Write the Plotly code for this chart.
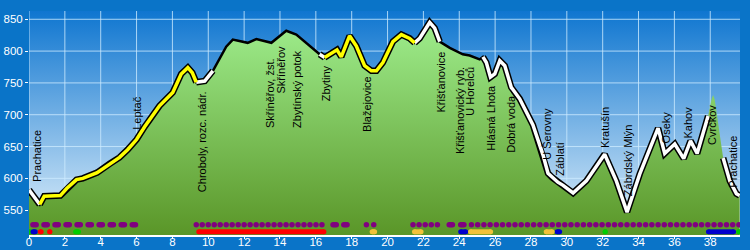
import numpy as np
import plotly.graph_objects as go

# ---------------- data ----------------
km = [0.0, 0.6, 0.85, 1.75, 2.1, 2.65, 3.0, 3.8, 4.5, 5.05, 5.5, 6.0, 6.45, 7.28, 8.02, 8.49,
      8.86, 9.11, 9.33, 9.8, 10.26, 11.0, 11.37, 12.2, 12.68, 13.52, 14.35, 14.91, 16.21, 16.49,
      17.18, 17.42, 17.88, 18.26, 18.72, 19.1, 19.38, 19.74, 20.3, 20.77, 21.23, 21.51, 21.79,
      22.35, 22.63, 22.91, 23.47, 24.2, 24.58, 25.14, 25.32, 25.51, 25.74, 25.98, 26.26, 26.54,
      26.9, 27.37, 28.11, 28.67, 28.95, 29.2, 29.5, 29.79, 30.35, 31.09, 32.11, 32.76, 33.36,
      34.07, 35.09, 35.46, 36.02, 36.52, 36.9, 37.27, 37.88, 38.07, 38.16, 38.25, 38.72, 39.09,
      39.46, 39.64]
elev = [582, 559, 572, 573, 584, 598, 600, 609, 623, 633, 645, 661, 681, 714, 735, 764,
        774, 766, 751, 753, 769, 807, 818, 813, 819, 813, 832, 826, 795, 790,
        802, 791, 824, 808, 777, 769, 769, 782, 815, 826, 820, 813, 820,
        845, 836, 815, 805, 795, 793, 787, 791, 782, 759, 764, 785, 777,
        743, 725, 684, 637, 608, 601, 594, 589, 577, 596, 638, 596, 547,
        607, 679, 639, 654, 631, 659, 639, 698, 724, 731, 724, 632, 596,
        576, 573]

# route pieces that have a line drawn (the spike near 38 km has only fill)
line_pieces = [(0.0, 37.88), (38.72, 39.64)]
# highlighted pieces: (from km, to km, colour)
highlight = [(0.0, 0.6, "#ffffff"), (0.6, 9.33, "#ffff00"), (9.33, 10.26, "#ffffff"),
             (16.21, 16.49, "#ffffff"), (16.49, 21.51, "#ffff00"), (21.51, 22.91, "#ffffff"),
             (25.32, 37.88, "#ffffff"), (38.72, 39.64, "#ffffff")]

labels = ["Prachatice", "Leptač", "Chroboly, rozc. nádr.", "Skříněřov, žst.", "Skříněřov",
          "Zbytínský potok", "Zbytiny", "Blažejovice", "Křišťanovice", "Křišťanovický ryb.",
          "U Horelců", "Hlásná Lhota", "Dobrá voda", "U Šerovny", "Záblatí", "Kratušín",
          "Zábrdský Mlýn", "Oseky", "Kahov", "Cvrčkov", "Prachatice"]
label_km = [0.45, 5.98, 9.65, 13.45, 14.03, 14.96, 16.55, 18.84, 22.96, 24.05,
            24.58, 25.77, 26.84, 28.93, 29.6, 32.09, 33.43, 35.52, 36.76, 38.1, 39.22]
label_base = [593, 675, 576, 677, 731, 678, 719, 671, 702, 636,
              697, 642, 639, 627, 602, 646, 571, 653, 661, 651, 584]

x_ticks = list(range(0, 40, 2))
y_ticks = [550, 600, 650, 700, 750, 800, 850]

# purple markings: single-dot runs (first, last, count), double-dot "pills"
purple_runs = [(9.33, 16.34, 22), (18.82, 19.23, 2), (21.42, 22.78, 5), (24.68, 39.6, 44)]
purple_pill_runs = [(0.31, 5.85, 10), (17.05, 17.05, 1), (17.65, 17.65, 1),
                    (23.53, 23.53, 1), (24.17, 24.17, 1)]
# coloured bars (from km, to km)
bars_green = [(0.05, 0.05), (2.6, 2.76), (32.14, 32.14), (39.6, 39.6)]
bars_blue = [(0.22, 0.35), (24.08, 24.36), (29.46, 29.6), (37.9, 39.3)]
bars_red = [(0.63, 0.68), (1.16, 1.16), (9.47, 16.45)]
bars_yellow = [(19.14, 19.28), (21.5, 21.87), (24.63, 25.75), (28.85, 29.18)]

# ---------------- figure ----------------
X0, X1 = 0.0, 39.66
Y0, Y1 = 511, 863
PURPLE_ROW = 527
BAR_ROW = 516

fig = go.Figure()

# plot background gradient
fig.add_trace(go.Scatter(
    x=[X0, X1, X1, X0, X0], y=[Y0, Y0, Y1, Y1, Y0], mode="lines", fill="toself",
    line=dict(width=0), hoverinfo="skip",
    fillgradient=dict(type="vertical", start=Y0, stop=Y1,
                      colorscale=[[0, "#e2f1fb"], [1, "#0f76d0"]])))

# grid
gx, gy = [], []
for t in x_ticks:
    gx += [t, t, None]
    gy += [Y0, Y1, None]
for t in y_ticks:
    gx += [X0, X1, None]
    gy += [t, t, None]
fig.add_trace(go.Scatter(x=gx, y=gy, mode="lines", hoverinfo="skip",
                         line=dict(color="rgba(205,235,255,0.8)", width=1)))

# terrain fill
fig.add_trace(go.Scatter(
    x=km, y=elev, mode="lines", fill="tozeroy", line=dict(width=0), hoverinfo="skip",
    fillgradient=dict(type="vertical", start=Y0, stop=Y1,
                      colorscale=[[0, "#5a9628"], [1, "#a2f292"]])))


def pieces(ranges):
    xs, ys = [], []
    for a, b in ranges:
        for k, e in zip(km, elev):
            if a <= k <= b:
                xs.append(k)
                ys.append(e)
        xs.append(None)
        ys.append(None)
    return xs, ys


bx, by = pieces(line_pieces)
fig.add_trace(go.Scatter(x=bx, y=by, mode="lines", hoverinfo="skip",
                         line=dict(color="black", width=2.5)))
hx, hy = pieces([(a, b) for a, b, c in highlight])
fig.add_trace(go.Scatter(x=hx, y=hy, mode="lines", hoverinfo="skip",
                         line=dict(color="black", width=6.5)))
for col in ["#ffffff", "#ffff00"]:
    sx, sy = pieces([(a, b) for a, b, c in highlight if c == col])
    fig.add_trace(go.Scatter(x=sx, y=sy, mode="lines", hoverinfo="skip",
                             line=dict(color=col, width=3.5)))

# purple markings
px = []
for a, b, n in purple_runs:
    px += list(np.linspace(a, b, n))
for a, b, n in purple_pill_runs:
    for c in np.linspace(a, b, n):
        px += [c - 0.09, c, c + 0.09]
fig.add_trace(go.Scatter(x=px, y=[PURPLE_ROW] * len(px), mode="markers", hoverinfo="skip",
                         marker=dict(color="#800080", size=5.5, line=dict(width=0))))

# coloured bars
for bars, col in [(bars_green, "#00cc00"), (bars_blue, "#0000cc"),
                  (bars_red, "#ff0000"), (bars_yellow, "#f2c23a")]:
    xs, ys = [], []
    for a, b in bars:
        xs += [a, b, None]
        ys += [BAR_ROW, BAR_ROW, None]
    fig.add_trace(go.Scatter(x=xs, y=ys, mode="lines+markers", hoverinfo="skip",
                             line=dict(color=col, width=5),
                             marker=dict(color=col, size=5, line=dict(width=0))))

# place labels
for t, k, b in zip(labels, label_km, label_base):
    fig.add_annotation(x=k, y=b, text=t, textangle=-90, showarrow=False,
                       xanchor="center", yanchor="bottom", borderpad=0,
                       font=dict(family="Liberation Sans, Arial", size=11, color="black"))

tick_font = dict(family="Liberation Sans, Arial", size=11.5, color="white")
fig.update_layout(
    width=750, height=250, margin=dict(l=29, r=10, t=11, b=15),
    paper_bgcolor="#0a74c8", plot_bgcolor="#6fafe4", showlegend=False,
    xaxis=dict(range=[X0, X1], tickvals=x_ticks, showgrid=False, zeroline=False,
               showline=True, linecolor="white", linewidth=2, ticks="outside",
               ticklen=2, tickcolor="white", tickfont=tick_font, automargin=False,
               ticklabelstandoff=-7),
    yaxis=dict(range=[Y0, Y1], tickvals=y_ticks, showgrid=False, zeroline=False,
               ticks="outside", ticklen=3, tickcolor="white", automargin=False,
               tickfont=dict(family="Liberation Sans, Arial", size=11.5, color="white")),
)

fig.write_html("out.html")
